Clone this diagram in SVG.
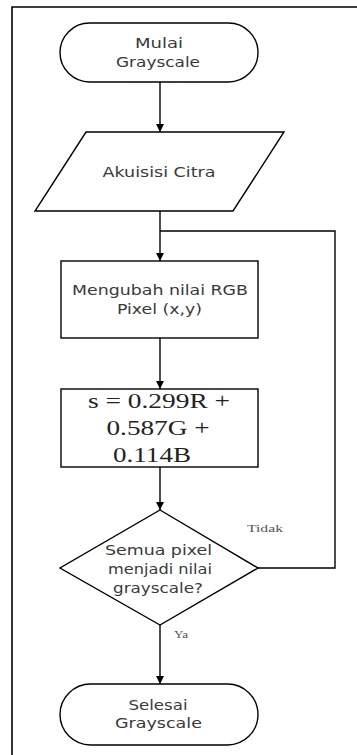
<svg xmlns="http://www.w3.org/2000/svg" width="357" height="755" viewBox="0 0 357 755">
<style>
.shape{fill:#fff;stroke:#000;stroke-width:1.4}
.sans{font-family:"DejaVu Sans",Verdana,sans-serif;font-size:14px;fill:#3a3a3a;text-anchor:middle}
.serif{font-family:"Liberation Serif","Times New Roman",serif;font-size:20px;fill:#222;text-anchor:middle}
.lbl{font-family:"Liberation Serif","Times New Roman",serif;font-size:10px;fill:#555}
.conn{fill:none;stroke:#000;stroke-width:1.4}
</style>
<defs>
<marker id="arr" viewBox="0 0 10 10" refX="10" refY="5" markerWidth="8" markerHeight="8" markerUnits="userSpaceOnUse" orient="auto">
<path d="M0,0 L10,5 L0,10 Z" fill="#000"/>
</marker>
</defs>
<rect width="357" height="755" fill="#fff"/>
<path d="M12,755 L12,7 L357,7" fill="none" stroke="#000" stroke-width="1.6"/>
<g id="connectors">
<line class="conn" x1="160" y1="82" x2="160" y2="132" marker-end="url(#arr)"/>
<line class="conn" x1="160" y1="211" x2="160" y2="261" marker-end="url(#arr)"/>
<line class="conn" x1="160" y1="338" x2="160" y2="389" marker-end="url(#arr)"/>
<line class="conn" x1="160" y1="467" x2="160" y2="510" marker-end="url(#arr)"/>
<line class="conn" x1="160" y1="625" x2="160" y2="684" marker-end="url(#arr)"/>
<polyline class="conn" points="258,568 335,568 335,231 160,231"/>
<text class="lbl" x="247" y="532" textLength="36" lengthAdjust="spacingAndGlyphs">Tidak</text>
<text class="lbl" x="174" y="638" textLength="14" lengthAdjust="spacingAndGlyphs">Ya</text>
</g>
<g id="start">
<rect class="shape" x="60" y="23" width="198" height="59" rx="29.5" ry="29.5"/>
<text class="sans" x="159" y="48" textLength="48" lengthAdjust="spacingAndGlyphs">Mulai</text>
<text class="sans" x="158" y="67" textLength="84" lengthAdjust="spacingAndGlyphs">Grayscale</text>
</g>
<g id="input">
<polygon class="shape" points="86,132 284,132 233,211 35,211"/>
<text class="sans" x="159" y="177" textLength="113" lengthAdjust="spacingAndGlyphs">Akuisisi Citra</text>
</g>
<g id="convert">
<rect class="shape" x="61" y="261" width="197" height="77"/>
<text class="sans" x="160" y="295" textLength="176" lengthAdjust="spacingAndGlyphs">Mengubah nilai RGB</text>
<text class="sans" x="159.5" y="314" textLength="85" lengthAdjust="spacingAndGlyphs">Pixel (x,y)</text>
</g>
<g id="formula">
<rect class="shape" x="61" y="389" width="197" height="78"/>
<text class="serif" x="159" y="408" textLength="142" lengthAdjust="spacingAndGlyphs">s = 0.299R +</text>
<text class="serif" x="158" y="435" textLength="103" lengthAdjust="spacingAndGlyphs">0.587G +</text>
<text class="serif" x="152" y="462" textLength="78" lengthAdjust="spacingAndGlyphs">0.114B</text>
</g>
<g id="decision">
<polygon class="shape" points="160,510 258,568 160,625 60,568"/>
<text class="sans" x="158.5" y="555" textLength="107" lengthAdjust="spacingAndGlyphs">Semua pixel</text>
<text class="sans" x="160" y="574" textLength="104" lengthAdjust="spacingAndGlyphs">menjadi nilai</text>
<text class="sans" x="158" y="593" textLength="90" lengthAdjust="spacingAndGlyphs">grayscale?</text>
</g>
<g id="end">
<rect class="shape" x="60" y="684" width="198" height="61" rx="30.5" ry="30.5"/>
<text class="sans" x="158" y="710" textLength="59" lengthAdjust="spacingAndGlyphs">Selesai</text>
<text class="sans" x="158.5" y="728" textLength="87" lengthAdjust="spacingAndGlyphs">Grayscale</text>
</g>
</svg>
